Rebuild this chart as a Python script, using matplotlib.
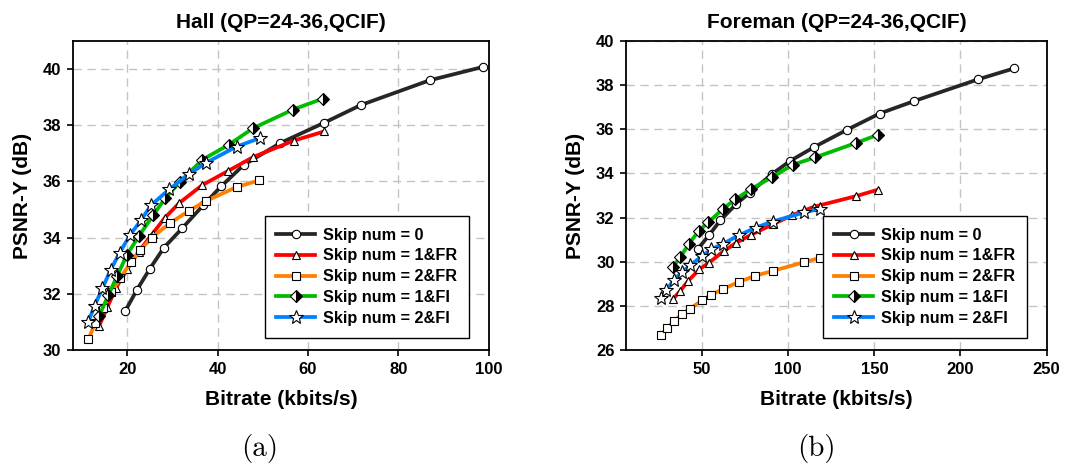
import numpy as np
import matplotlib
matplotlib.use("Agg")
import matplotlib.pyplot as plt

plt.rcParams['font.family'] = ['Liberation Sans', 'DejaVu Sans']
plt.rcParams['font.weight'] = 'bold'

labels = ['Skip num = 0', 'Skip num = 1&FR', 'Skip num = 2&FR', 'Skip num = 1&FI', 'Skip num = 2&FI']

# Hall (QP=24-36, QCIF)
hall_x0 = [19.6, 22.1, 25.0, 28.1, 32.2, 36.8, 40.8, 45.8, 53.9, 63.6, 71.7, 86.9, 98.8]
hall_y0 = [31.40, 32.13, 32.89, 33.64, 34.34, 35.15, 35.83, 36.59, 37.37, 38.09, 38.72, 39.60, 40.08]
hall_x1 = [13.8, 15.6, 17.5, 20.0, 22.5, 25.6, 28.3, 31.5, 36.6, 42.4, 47.9, 56.8, 63.6]
hall_y1 = [30.87, 31.52, 32.21, 32.87, 33.50, 34.14, 34.70, 35.23, 35.87, 36.38, 36.87, 37.45, 37.78]
hall_x2 = [11.4, 12.9, 14.6, 16.5, 18.5, 20.9, 22.9, 25.4, 29.4, 33.6, 37.5, 44.2, 49.2]
hall_y2 = [30.38, 30.95, 31.50, 32.05, 32.57, 33.14, 33.55, 34.00, 34.51, 34.95, 35.31, 35.80, 36.04]
hall_x3 = [13.8, 15.8, 17.8, 19.9, 22.6, 25.7, 28.4, 31.6, 36.6, 42.5, 47.8, 56.7, 63.3]
hall_y3 = [31.22, 31.94, 32.65, 33.38, 34.06, 34.79, 35.40, 35.98, 36.77, 37.31, 37.89, 38.56, 38.95]
hall_x4 = [11.3, 12.8, 14.5, 16.3, 18.3, 20.7, 23.0, 25.3, 29.3, 33.6, 37.5, 44.2, 49.3]
hall_y4 = [30.98, 31.58, 32.20, 32.84, 33.46, 34.11, 34.61, 35.16, 35.72, 36.25, 36.67, 37.24, 37.54]

# Foreman (QP=24-36, QCIF)
fore_x0 = [47.3, 53.9, 60.5, 69.8, 77.5, 90.7, 101.2, 115.2, 134.0, 153.0, 173.2, 210.2, 231.2]
fore_y0 = [30.56, 31.19, 31.87, 32.61, 33.12, 33.98, 34.57, 35.20, 35.97, 36.71, 37.28, 38.26, 38.76]
fore_x1 = [32.9, 37.2, 42.0, 48.3, 53.9, 62.4, 69.4, 78.5, 90.9, 102.4, 115.0, 139.4, 152.4]
fore_y1 = [28.29, 28.67, 29.14, 29.65, 29.95, 30.47, 30.84, 31.22, 31.69, 32.11, 32.49, 32.97, 33.27]
fore_x2 = [26.1, 29.4, 33.7, 38.4, 42.8, 50.0, 55.4, 62.0, 71.5, 80.8, 91.3, 108.9, 118.7]
fore_y2 = [26.68, 26.98, 27.31, 27.64, 27.86, 28.25, 28.50, 28.76, 29.09, 29.36, 29.59, 29.97, 30.18]
fore_x3 = [33.1, 37.4, 42.2, 48.1, 53.5, 62.2, 69.2, 78.5, 90.7, 102.6, 115.8, 139.4, 152.4]
fore_y3 = [29.77, 30.22, 30.80, 31.40, 31.78, 32.40, 32.82, 33.30, 33.83, 34.39, 34.73, 35.38, 35.76]
fore_x4 = [25.9, 29.2, 33.5, 38.4, 42.8, 50.0, 55.2, 62.0, 71.5, 81.0, 90.9, 109.2, 118.7]
fore_y4 = [28.37, 28.72, 29.17, 29.53, 29.83, 30.25, 30.56, 30.81, 31.20, 31.54, 31.82, 32.23, 32.41]

colors = ['#262626', '#ff0000', '#ff8000', '#00bb00', '#0080ff']
markers = ['o', '^', 's', 'D', '*']
msizes = [6, 6, 5.5, 6, 10]


def draw_panel(ax, xs, ys, title, xlim, ylim, xticks, yticks, anchor):
    for i in range(5):
        kw = dict(color=colors[i], lw=2.7, marker=markers[i], ms=msizes[i],
                  mec='black', mew=0.8, mfc='white', label=labels[i])
        if markers[i] == 'D':
            kw.update(mfc='black', mfcalt='white', fillstyle='right')
        ax.plot(xs[i], ys[i], **kw)
    ax.set_xlim(xlim)
    ax.set_ylim(ylim)
    ax.set_xticks(xticks)
    ax.set_yticks(yticks)
    ax.grid(True, color='#c4c4c4', ls=(0, (6, 4)), lw=1)
    ax.set_axisbelow(True)
    for s in ax.spines.values():
        s.set_linewidth(1.3)
    ax.tick_params(labelsize=12, width=1.2, length=4)
    ax.tick_params(axis='x', pad=5)
    ax.tick_params(axis='y', pad=4.5)
    ax.set_title(title, fontsize=15, fontweight='bold', pad=9)
    ax.set_xlabel('Bitrate (kbits/s)', fontsize=15, fontweight='bold', labelpad=9)
    ax.set_ylabel('PSNR-Y (dB)', fontsize=15, fontweight='bold', labelpad=8)
    leg = ax.legend(loc='lower right', fontsize=11.7, fancybox=False, framealpha=1,
                    edgecolor='black', handlelength=2.4, handletextpad=0.5,
                    borderpad=0.72, labelspacing=0.36, borderaxespad=0,
                    bbox_to_anchor=anchor)
    leg.get_frame().set_linewidth(1.0)


fig = plt.figure(figsize=(10.8, 4.72), dpi=100)
ax1 = fig.add_axes([0.0676, 0.2585, 0.385, 0.6547])
ax2 = fig.add_axes([0.580, 0.2585, 0.389, 0.6547])

draw_panel(ax1, [hall_x0, hall_x1, hall_x2, hall_x3, hall_x4],
           [hall_y0, hall_y1, hall_y2, hall_y3, hall_y4],
           'Hall (QP=24-36,QCIF)', (8, 100), (30, 41),
           [20, 40, 60, 80, 100], [30, 32, 34, 36, 38, 40], (0.953, 0.040))
draw_panel(ax2, [fore_x0, fore_x1, fore_x2, fore_x3, fore_x4],
           [fore_y0, fore_y1, fore_y2, fore_y3, fore_y4],
           'Foreman (QP=24-36,QCIF)', (6, 250), (26, 40),
           [50, 100, 150, 200, 250], [26, 28, 30, 32, 34, 36, 38, 40], (0.954, 0.040))

fig.text(0.240, 0.050, '(a)', fontsize=21, family='cmr10', fontweight='normal', ha='center', va='center')
fig.text(0.756, 0.050, '(b)', fontsize=21, family='cmr10', fontweight='normal', ha='center', va='center')

fig.savefig('out.png', dpi=100)
